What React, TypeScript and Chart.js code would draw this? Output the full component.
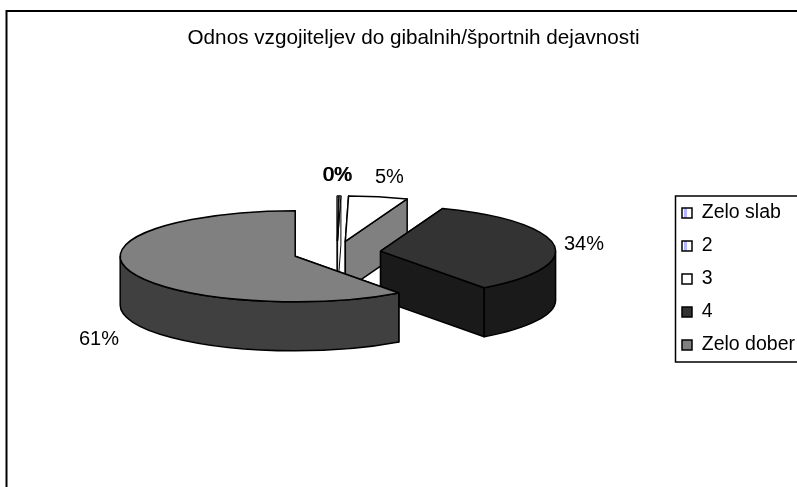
import React, { useEffect, useRef } from "react";
import { Chart, registerables } from "chart.js";

Chart.register(...registerables);

const categories = ["Zelo slab", "2", "3", "4", "Zelo dober"];
const percentages = [0.15, 0.15, 5.49, 34.4, 60.5];
const topColors = ["#ffffff", "#ffffff", "#ffffff", "#333333", "#808080"];
const wallColors = ["#333333", "#ffffff", "#808080", "#1a1a1a", "#404040"];
const titleText = "Odnos vzgojiteljev do gibalnih/športnih dejavnosti";

const FONT = "'Liberation Sans', Arial, sans-serif";
const CX = 337;
const CY = 252.7;
const SQUASH = 0.26;
const EXPLODE = 44;
const DEPTH = 49;
const labelNudges = [
  [-1, -20],
  [-2, -20],
  [11, -19],
  [30, 0],
  [-30, 69],
];

function stripePattern(ctx: CanvasRenderingContext2D) {
  const c = document.createElement("canvas");
  c.width = 10;
  c.height = 2;
  const p = c.getContext("2d")!;
  p.fillStyle = "#ffffff";
  p.fillRect(0, 0, 10, 2);
  p.fillStyle = "#b4b4ff";
  p.fillRect(4, 0, 3, 2);
  return ctx.createPattern(c, "repeat");
}

const pie3d = {
  id: "pie3d",
  beforeDatasetDraw() {
    return false;
  },
  afterLayout(chart: any) {
    const legend = chart.legend;
    legend.left = 668.5;
    legend.right = 797;
    legend.top = 189.75;
    legend.bottom = 487;
    const title = chart.titleBlock;
    title.left = 30;
    title.right = 797;
    title.top = 25.5;
  },
  beforeDraw(chart: any) {
    const ctx: CanvasRenderingContext2D = chart.ctx;
    ctx.save();
    ctx.fillStyle = "#ffffff";
    ctx.fillRect(0, 0, chart.width, chart.height);
    ctx.strokeStyle = "#000000";
    ctx.lineWidth = 2;
    ctx.beginPath();
    ctx.moveTo(6.5, chart.height);
    ctx.lineTo(6.5, 11);
    ctx.lineTo(chart.width, 11);
    ctx.stroke();
    ctx.lineWidth = 1.5;
    ctx.beginPath();
    ctx.moveTo(chart.width, 196);
    ctx.lineTo(675.5, 196);
    ctx.lineTo(675.5, 362);
    ctx.lineTo(chart.width, 362);
    ctx.stroke();
    ctx.restore();
  },
  afterDatasetsDraw(chart: any) {
    const ctx: CanvasRenderingContext2D = chart.ctx;
    const arcs = chart.getDatasetMeta(0).data;
    ctx.save();
    ctx.lineJoin = "round";
    ctx.strokeStyle = "#000000";
    arcs.forEach((arc: any, i: number) => {
      ctx.lineWidth = i < 2 ? 1 : 1.5;
      const a0: number = arc.startAngle;
      const a1: number = arc.endAngle;
      const mid = (a0 + a1) / 2;
      const r: number = arc.outerRadius;
      const ox = CX + Math.cos(mid) * EXPLODE;
      const oy = CY + Math.sin(mid) * EXPLODE * SQUASH;
      const px = (a: number) => ox + Math.cos(a) * r;
      const py = (a: number) => oy + Math.sin(a) * r * SQUASH;
      const paint = (fill: string) => {
        ctx.fillStyle = fill;
        ctx.fill();
        ctx.stroke();
      };
      [a0, a1].forEach((a) => {
        ctx.beginPath();
        ctx.moveTo(ox, oy);
        ctx.lineTo(px(a), py(a));
        ctx.lineTo(px(a), py(a) + DEPTH);
        ctx.lineTo(ox, oy + DEPTH);
        ctx.closePath();
        paint(wallColors[i]);
      });
      const t = Math.PI * 2;
      const shift = ((a0 % t) + t) % t - a0;
      for (const [lo, hi] of [
        [0, Math.PI],
        [t, t + Math.PI],
      ]) {
        const f0 = Math.max(a0 + shift, lo);
        const f1 = Math.min(a1 + shift, hi);
        if (f1 > f0) {
          ctx.beginPath();
          ctx.ellipse(ox, oy, r, r * SQUASH, 0, f0, f1);
          ctx.lineTo(px(f1), py(f1) + DEPTH);
          ctx.ellipse(ox, oy + DEPTH, r, r * SQUASH, 0, f1, f0, true);
          ctx.closePath();
          paint(wallColors[i]);
        }
      }
      ctx.beginPath();
      ctx.moveTo(ox, oy);
      ctx.ellipse(ox, oy, r, r * SQUASH, 0, a0, a1);
      ctx.closePath();
      paint(topColors[i]);
    });
    ctx.fillStyle = "#000000";
    ctx.font = `20px ${FONT}`;
    ctx.textAlign = "center";
    ctx.textBaseline = "middle";
    arcs.forEach((arc: any, i: number) => {
      const mid = (arc.startAngle + arc.endAngle) / 2;
      const r: number = arc.outerRadius;
      const ox = CX + Math.cos(mid) * (EXPLODE + r);
      const oy = CY + Math.sin(mid) * (EXPLODE + r) * SQUASH;
      const text = `${Math.round(percentages[i])}%`;
      ctx.fillText(text, ox + labelNudges[i][0], oy + labelNudges[i][1]);
    });
    ctx.restore();
  },
};

export default function App() {
  const ref = useRef<HTMLCanvasElement>(null);
  useEffect(() => {
    const ctx = ref.current!.getContext("2d")!;
    const stripes = stripePattern(ctx);
    const chart = new Chart(ctx, {
      type: "pie",
      data: {
        labels: categories,
        datasets: [{ data: percentages, backgroundColor: topColors, radius: 175 } as any],
      },
      plugins: [pie3d as any],
      options: {
        responsive: false,
        animation: false,
        plugins: {
          tooltip: { enabled: false },
          title: {
            display: true,
            text: titleText,
            color: "#000000",
            font: { family: FONT, size: 20.7, weight: "normal" },
            padding: 0,
          },
          legend: {
            position: "right",
            align: "start",
            labels: {
              color: "#000000",
              font: { family: FONT, size: 19.5 },
              boxWidth: 10,
              boxHeight: 10,
              padding: 13.5,
              generateLabels: () =>
                categories.map((text, i) => ({
                  text,
                  fillStyle: (i < 2 ? stripes : topColors[i]) as any,
                  strokeStyle: "#000000",
                  lineWidth: 1.5,
                  hidden: false,
                  index: i,
                })),
            },
          },
        },
      },
    });
    return () => chart.destroy();
  }, []);
  return (
    <canvas
      ref={ref}
      width={797}
      height={487}
      style={{ position: "fixed", left: 0, top: 0, width: 797, height: 487 }}
    />
  );
}
